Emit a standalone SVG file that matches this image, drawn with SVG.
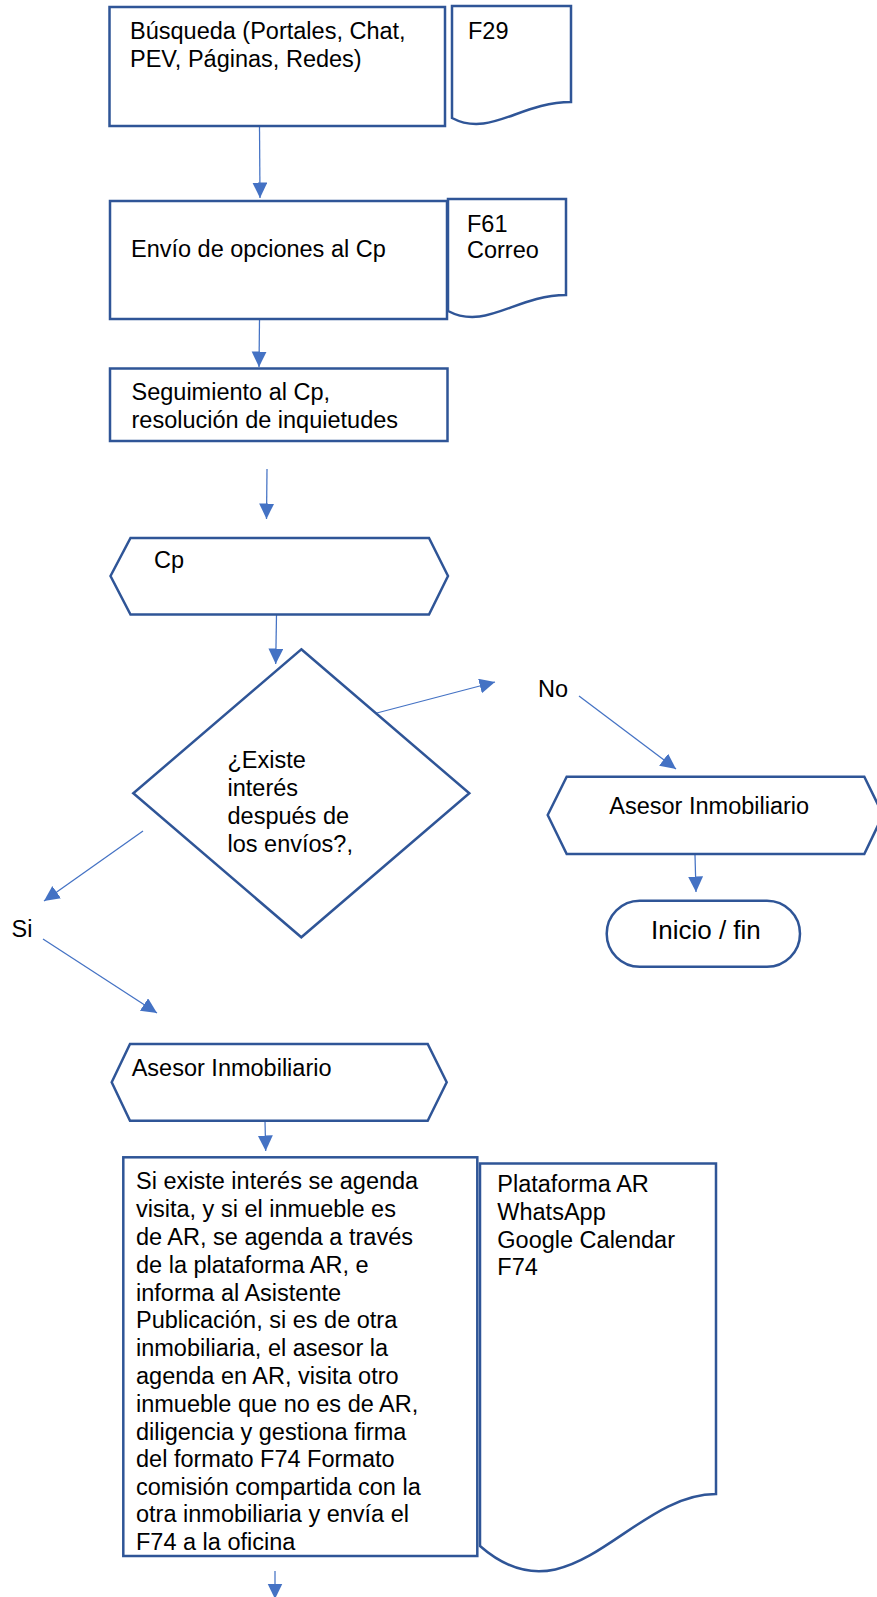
<svg xmlns="http://www.w3.org/2000/svg" width="877" height="1597" viewBox="0 0 877 1597">
<style>
.s{fill:#fff;stroke:#2F5597;stroke-width:2.5;stroke-linejoin:miter}
.c{fill:none;stroke:#4472C4;stroke-width:1.25;marker-end:url(#ah)}
text{font-family:"Liberation Sans",Arial,sans-serif;font-size:23.5px;fill:#000}
.big{font-size:26px}
</style>
<defs>
<marker id="ah" markerUnits="userSpaceOnUse" markerWidth="17" markerHeight="17" refX="15.5" refY="7.5" orient="auto">
<path d="M0,0 L15.5,7.5 L0,15 z" fill="#4472C4"/>
</marker>
</defs>
<rect width="877" height="1597" fill="#fff"/>
<g id="connectors">
<line class="c" x1="259.5" y1="127" x2="260" y2="198"/>
<line class="c" x1="259.5" y1="320" x2="259" y2="367"/>
<line class="c" x1="267" y1="469" x2="266.5" y2="519"/>
<line class="c" x1="276.5" y1="615" x2="275.7" y2="664"/>
<line class="c" x1="373" y1="714" x2="495" y2="682"/>
<line class="c" x1="579" y1="696" x2="676" y2="769"/>
<line class="c" x1="695" y1="855" x2="696" y2="892"/>
<line class="c" x1="143" y1="831" x2="44" y2="901"/>
<line class="c" x1="43" y1="939" x2="157" y2="1013"/>
<line class="c" x1="265" y1="1121" x2="265.7" y2="1151"/>
<line class="c" x1="275" y1="1571" x2="275" y2="1599"/>
</g>
<g id="n-busqueda">
<rect class="s" x="109.5" y="7" width="335.5" height="119"/>
<text x="130" y="39">Búsqueda (Portales, Chat,</text>
<text x="130" y="67">PEV, Páginas, Redes)</text>
</g>
<g id="n-f29">
<path class="s" d="M452,6 H571 V102 C520,102 490,138 452,118 Z"/>
<text x="468" y="39">F29</text>
</g>
<g id="n-envio">
<rect class="s" x="110" y="201" width="337" height="118"/>
<text x="131" y="257">Envío de opciones al Cp</text>
</g>
<g id="n-f61">
<path class="s" d="M448,199 H566 V295 C516,295 486,331 448,311 Z"/>
<text x="467" y="232">F61</text>
<text x="467" y="258">Correo</text>
</g>
<g id="n-seguimiento">
<rect class="s" x="110" y="368.5" width="337.5" height="72.5"/>
<text x="131.5" y="400">Seguimiento al Cp,</text>
<text x="131.5" y="428">resolución de inquietudes</text>
</g>
<g id="n-cp">
<polygon class="s" points="110.5,576 130.5,538 429,538 448,576 429,614.5 130.5,614.5"/>
<text x="154" y="568">Cp</text>
</g>
<g id="n-decision">
<polygon class="s" points="301.3,649.3 469.3,793.3 301.3,937.3 133.3,793.3"/>
<text x="227.5" y="768">¿Existe</text>
<text x="227.5" y="796">interés</text>
<text x="227.5" y="824">después de</text>
<text x="227.5" y="852">los envíos?,</text>
</g>
<g id="l-no"><text x="538" y="697">No</text></g>
<g id="l-si"><text x="11.5" y="937">Si</text></g>
<g id="n-asesor-no">
<polygon class="s" points="547.7,815 566.7,776.7 864.3,776.7 883,815 864.3,854 566.7,854"/>
<text x="609.3" y="814">Asesor Inmobiliario</text>
</g>
<g id="n-fin">
<rect class="s" x="606.7" y="900.7" width="193.3" height="66" rx="33" ry="33"/>
<text class="big" x="651" y="939">Inicio / fin</text>
</g>
<g id="n-asesor-si">
<polygon class="s" points="111.7,1082.3 130,1044 427.7,1044 446.7,1082.3 427.7,1120.7 130,1120.7"/>
<text x="131.7" y="1076">Asesor Inmobiliario</text>
</g>
<g id="n-plataforma">
<path class="s" d="M480,1163.5 H716 V1494 C630,1494 570,1625 480,1546 Z"/>
<text x="497.3" y="1191.7">Plataforma AR</text>
<text x="497.3" y="1220">WhatsApp</text>
<text x="497.3" y="1248.3">Google Calendar</text>
<text x="497.3" y="1275">F74</text>
</g>
<g id="n-agenda">
<rect class="s" x="123.3" y="1157.3" width="354" height="398.7"/>
<text x="136" y="1189.3">Si existe interés se agenda</text>
<text x="136" y="1217.3">visita, y si el inmueble es</text>
<text x="136" y="1245">de AR, se agenda a través</text>
<text x="136" y="1273">de la plataforma AR, e</text>
<text x="136" y="1300.5">informa al Asistente</text>
<text x="136" y="1328.3">Publicación, si es de otra</text>
<text x="136" y="1356">inmobiliaria, el asesor la</text>
<text x="136" y="1384">agenda en AR, visita otro</text>
<text x="136" y="1412">inmueble que no es de AR,</text>
<text x="136" y="1439.5">diligencia y gestiona firma</text>
<text x="136" y="1467">del formato F74 Formato</text>
<text x="136" y="1494.5">comisión compartida con la</text>
<text x="136" y="1522">otra inmobiliaria y envía el</text>
<text x="136" y="1549.5">F74 a la oficina</text>
</g>
</svg>
